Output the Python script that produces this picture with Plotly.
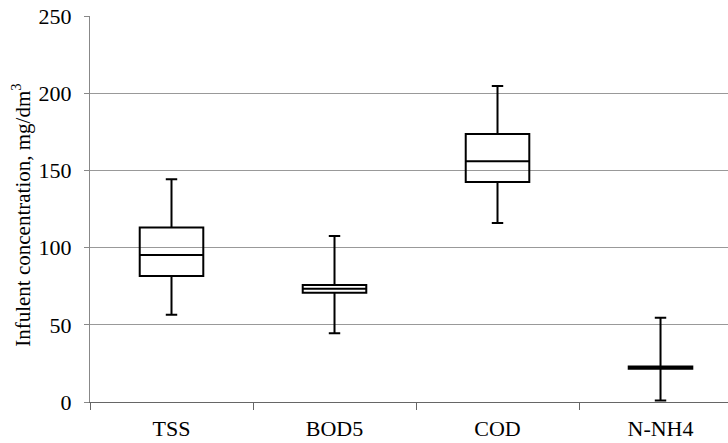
import plotly.graph_objects as go

categories = ["TSS", "BOD5", "COD", "N-NH4"]
lower_whisker = [56.5, 44.5, 116, 1]
q1_values = [81.6, 70.8, 142.5, 21.5]
median_values = [95.2, 73.3, 156, 22.3]
q3_values = [113, 75.8, 173.5, 23]
upper_whisker = [144.2, 107.5, 204.7, 54.5]
y_ticks = [0, 50, 100, 150, 200, 250]
y_title = "Infulent concentration, mg/dm<sup>3</sup>"

font_family = "Liberation Serif, Times New Roman, serif"

fig = go.Figure()
fig.add_trace(go.Box(
    x=categories,
    q1=q1_values,
    median=median_values,
    q3=q3_values,
    lowerfence=lower_whisker,
    upperfence=upper_whisker,
    fillcolor="rgba(0,0,0,0)",
    line=dict(color="black", width=2),
    whiskerwidth=0.18,
    width=0.39,
    boxpoints=False,
    showlegend=False,
    hoverinfo="skip",
))

fig.update_layout(
    width=728, height=443,
    margin=dict(l=90, r=0, t=16, b=41),
    paper_bgcolor="white", plot_bgcolor="white",
    font=dict(family=font_family, color="black", size=22),
    xaxis=dict(
        type="category",
        range=[-0.5, 3.414],
        showline=True, linecolor="#666", linewidth=1,
        ticks="outside", ticklen=7, tickcolor="#666",
        tickson="boundaries",
        showgrid=False,
        ticklabelstandoff=7,
        tickfont=dict(size=22, family=font_family),
    ),
    yaxis=dict(
        range=[0, 250],
        tickvals=y_ticks,
        showline=True, linecolor="#888", linewidth=1,
        ticks="outside", ticklen=5, tickcolor="#888",
        showgrid=True, gridcolor="#999", gridwidth=1,
        zeroline=False,
        ticklabelstandoff=8,
        tickfont=dict(size=22, family=font_family),
    ),
    annotations=[dict(
        text=y_title, textangle=-90,
        xref="paper", yref="paper", x=-0.1066, y=0.485,
        xanchor="center", yanchor="middle", showarrow=False,
        font=dict(size=21, family=font_family, color="black"),
    )],
)

fig.write_html("out.html")
